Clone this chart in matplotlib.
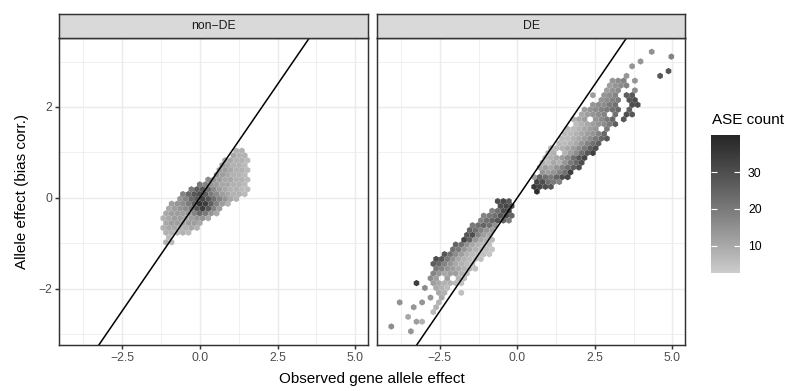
import numpy as np
import matplotlib
matplotlib.use('Agg')
import matplotlib.pyplot as plt
from matplotlib.colors import ListedColormap, Normalize

plt.rcParams['font.family'] = ['Liberation Sans', 'DejaVu Sans']

# hexagon grid (ggplot geom_hex, bins = 50): column step in x, row step in y
bw_x = 0.18053
row_dy = 0.10617

# hex cells: (row, first column, counts along the row; 0 = empty)
# odd rows are shifted by half a column
nde_y0 = -0.981
nde_rows = [
    (0, -6, [8, 6]),
    (1, -6, [6]),
    (2, -6, [8, 8, 6, 8, 6]),
    (3, -7, [8, 10, 10, 8, 8, 10, 8]),
    (4, -6, [10, 12, 12, 10, 12, 12, 10]),
    (5, -7, [8, 10, 12, 12, 10, 12, 14, 14, 10]),
    (6, -6, [10, 12, 12, 12, 14, 18, 24, 20, 14, 10]),
    (7, -6, [10, 12, 14, 16, 20, 28, 34, 28, 18, 12]),
    (8, -5, [12, 14, 16, 20, 26, 36, 34, 26, 18, 12, 8]),
    (9, -4, [14, 18, 24, 28, 32, 28, 22, 18, 14, 10, 8]),
    (10, -3, [18, 24, 28, 30, 26, 20, 16, 12, 10, 8, 8, 6]),
    (11, -2, [20, 26, 28, 22, 16, 12, 10, 8, 8, 6, 6]),
    (12, 0, [20, 18, 14, 12, 10, 10, 8, 8, 6]),
    (13, 1, [16, 14, 12, 10, 10, 8, 8, 6]),
    (14, 3, [14, 12, 10, 8, 8, 6]),
    (15, 3, [12, 12, 10, 8, 8, 6]),
    (16, 4, [12, 10, 8, 8, 6]),
    (17, 4, [10, 10, 8, 8, 6]),
    (18, 6, [10, 8, 8]),
    (19, 6, [8, 8]),
]

de_y0 = -2.942
de_rows = [
    (0, -19, [14]),
    (1, -23, [16]),
    (2, -18, [12, 8]),
    (3, -20, [10]),
    (4, -15, [6]),
    (5, -19, [14]), (5, -15, [8]),
    (6, -21, [15]), (6, -17, [14]), (6, -14, [8]),
    (7, -16, [14]), (7, -14, [10]),
    (8, -14, [10, 8]), (8, -10, [5]),
    (9, -17, [16]), (9, -15, [10, 8, 6]),
    (10, -18, [34]), (10, -15, [12, 10, 8, 8, 6, 5]),
    (11, -16, [16, 12, 0, 12, 0, 8, 6]),
    (12, -15, [18, 14, 10, 12, 12, 8, 6]),
    (13, -15, [20, 18, 14, 12, 10, 8, 6, 5]),
    (14, -15, [26, 24, 18, 14, 10, 8, 6, 5]),
    (15, -15, [30, 28, 20, 15, 10, 8, 6, 5, 5]),
    (16, -13, [28, 22, 16, 12, 8, 6, 5, 5, 4]),
    (17, -12, [22, 20, 14, 10, 8, 6, 5, 4]),
    (18, -11, [25, 22, 15, 10, 8, 6, 5]),
    (19, -10, [32, 25, 14, 10, 8, 6]),
    (20, -9, [28, 30, 18, 12, 10]),
    (21, -9, [25, 22, 18, 14, 12]),
    (22, -8, [20, 22, 25, 22, 15]),
    (23, -7, [18, 22, 25, 28, 25, 20]),
    (24, -6, [18, 20, 22, 28, 30, 25]),
    (25, -5, [18, 22, 30, 32]),
    (26, -3, [30, 32, 30]),
    (27, -4, [30, 32, 28]),
    (29, 3, [38]),
    (30, 3, [35, 32, 30, 28]),
    (31, 3, [32, 30, 22, 20, 18]),
    (32, 3, [12, 25, 22, 20, 25, 30, 32]),
    (33, 4, [14, 12, 14, 18, 22, 34]),
    (34, 4, [10, 12, 10, 14, 18, 22, 26, 30]),
    (35, 4, [8, 6, 10, 8, 14, 20, 24, 30]),
    (36, 5, [6, 8, 10, 12, 16, 22, 28, 32]),
    (37, 5, [6, 8, 0, 8, 12, 16, 22, 28, 34]),
    (38, 6, [6, 6, 8, 10, 12, 16, 20, 26, 30]),
    (39, 7, [6, 6, 8, 10, 14, 18, 22, 26]),
    (40, 8, [6, 6, 8, 10, 12, 16, 20, 24, 28]),
    (41, 8, [6, 6, 8, 10, 12, 14, 18, 24]),
    (42, 9, [6, 6, 8, 10, 12, 14, 0, 20]),
    (43, 10, [6, 8, 10, 12, 14, 16, 20, 26]),
    (44, 10, [8, 10, 12, 0, 14, 16, 20, 24]), (44, 19, [28]),
    (45, 11, [10, 12, 14, 16, 18, 0, 22]), (45, 19, [30, 28]),
    (46, 12, [12, 14, 16, 18, 20, 22, 24]), (46, 20, [26]),
    (47, 13, [14, 16, 16, 20, 22]), (47, 20, [30, 30]),
    (48, 15, [14, 16, 18, 20]), (48, 20, [28, 30]),
    (49, 13, [12]), (49, 15, [14, 16, 18]), (49, 19, [26, 28]),
    (50, 16, [12, 14, 16]), (50, 21, [16]),
    (51, 16, [12, 14, 16, 18]),
    (52, 17, [14, 16, 18]), (52, 21, [14]),
    (53, 19, [14]), (53, 25, [28]),
    (54, 27, [28]),
    (55, 20, [14]),
    (56, 22, [14]),
    (57, 27, [18]),
    (58, 24, [15]),
]

panel_names = ['non\u2212DE', 'DE']
x_ticks = [-2.5, 0.0, 2.5, 5.0]
y_ticks = [-2, 0, 2]
count_ticks = [10, 20, 30]


def cells(rows, y0):
    xs, ys, cs = [], [], []
    for k, i0, counts in rows:
        for j, c in enumerate(counts):
            if c > 0:
                xs.append((i0 + j + 0.5 * (k % 2)) * bw_x)
                ys.append(y0 + k * row_dy)
                cs.append(c)
    return np.array(xs), np.array(ys), np.array(cs, dtype=float)


# grey80 -> grey15 interpolated in L* like ggplot's scale_fill_gradient
def grey_to_L(v):
    c = v / 255.0
    lin = ((c + 0.055) / 1.055) ** 2.4
    return 116 * lin ** (1 / 3) - 16


def L_to_grey(L):
    lin = ((L + 16) / 116) ** 3
    return 1.055 * lin ** (1 / 2.4) - 0.055


Ls = np.linspace(grey_to_L(204), grey_to_L(38), 256)
cmap = ListedColormap([(g, g, g) for g in L_to_grey(Ls)])
norm = Normalize(vmin=2.6, vmax=40.2)

W, H = 799, 391
fig = plt.figure(figsize=(W / 100, H / 100), dpi=100)


def px_axes(x0, y0, x1, y1):
    return fig.add_axes([x0 / W, 1 - y1 / H, (x1 - x0) / W, (y1 - y0) / H])


dark = '#333333'
panels = [((59.3, 368.3), nde_rows, nde_y0), ((377.3, 685.3), de_rows, de_y0)]
for p, ((x0, x1), rows, y0) in enumerate(panels):
    ax = px_axes(x0, 38, x1, 345.3)
    x, y, c = cells(rows, y0)
    sy = 2 * row_dy
    hb = ax.hexbin(x, y, C=c, reduce_C_function=np.sum, gridsize=(60, 40),
                   extent=(-30 * bw_x, 30 * bw_x, y0 - 10 * sy, y0 + 30 * sy),
                   cmap=cmap, norm=norm, edgecolors='none', linewidths=0, zorder=2)
    ax.axline((0, 0), slope=1, color='black', lw=1.1, zorder=3)
    ax.set_xlim(-4.513, 5.415)
    ax.set_ylim(-3.25, 3.52)
    ax.set_xticks(x_ticks)
    ax.set_xticklabels([f'{v:.1f}'.replace('-', '\u2212') for v in x_ticks])
    ax.set_xticks([-3.75, -1.25, 1.25, 3.75], minor=True)
    ax.set_yticks(y_ticks)
    ax.set_yticks([-3, -1, 1, 3], minor=True)
    if p == 0:
        ax.set_yticklabels([str(v).replace('-', '\u2212') for v in y_ticks])
        ax.tick_params(axis='y', which='major', length=2.74, width=1.07, color=dark,
                       labelsize=8.8, labelcolor='#4D4D4D', pad=2.2)
    else:
        ax.tick_params(axis='y', which='major', length=0, labelleft=False)
    ax.tick_params(axis='x', which='major', length=2.74, width=1.07, color=dark,
                   labelsize=8.8, labelcolor='#4D4D4D', pad=2.2)
    ax.tick_params(which='minor', length=0)
    ax.grid(which='major', color='#EBEBEB', lw=1.07)
    ax.grid(which='minor', color='#EBEBEB', lw=0.53)
    ax.set_axisbelow(True)
    for s in ax.spines.values():
        s.set_color(dark)
        s.set_linewidth(1.07)
        s.set_zorder(4)

    sax = px_axes(x0, 14, x1, 38)
    sax.set_facecolor('#D9D9D9')
    sax.set_xticks([])
    sax.set_yticks([])
    for s in sax.spines.values():
        s.set_color(dark)
        s.set_linewidth(1.07)
    sax.text(0.5, 0.5, panel_names[p], ha='center', va='center', fontsize=8.8,
             color='#1A1A1A', transform=sax.transAxes)

fig.text(372.3 / W, 1 - 379 / H, 'Observed gene allele effect', ha='center', va='center', fontsize=11)
fig.text(22 / W, 1 - 191.7 / H, 'Allele effect (bias corr.)', ha='center', va='center',
         rotation=90, fontsize=11)

# colour bar
cax = px_axes(711, 135, 740, 272.7)
cb = fig.colorbar(hb, cax=cax, ticks=count_ticks)
cb.outline.set_visible(False)
cb.minorticks_off()
cax.tick_params(which='major', direction='in', length=4.2, width=0.8, color='white',
                left=True, right=True, labelleft=False, labelright=True,
                labelsize=8.8, labelcolor='black', pad=5.8)
fig.text(711.7 / W, 1 - 120 / H, 'ASE count', ha='left', va='center', fontsize=11)

fig.savefig('out.png', dpi=100)
